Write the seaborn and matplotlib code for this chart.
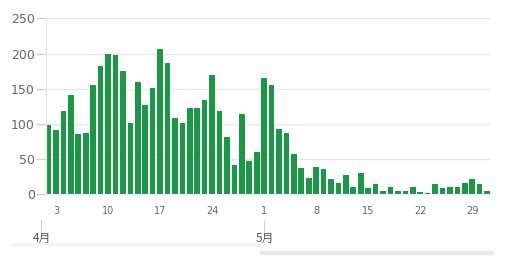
import matplotlib
matplotlib.use("Agg")
import matplotlib.pyplot as plt
import matplotlib.transforms as mtransforms
from matplotlib.patches import Rectangle
import seaborn as sns
import pandas as pd

# ---- data ----
dates = pd.date_range("2020-04-02", "2020-05-31", freq="D")
april_values = [98, 92, 118, 141, 86, 87, 156, 183, 199, 198, 175, 102, 160, 127,
                151, 206, 187, 109, 101, 123, 123, 134, 170, 119, 82, 42, 114, 47, 60]
may_values = [165, 156, 93, 87, 57, 37, 23, 39, 36, 22, 16, 27, 10, 30, 9, 15,
              5, 10, 5, 5, 11, 3, 2, 15, 9, 10, 11, 16, 22, 15, 5]
values = april_values + may_values
tick_dates = ["2020-04-03", "2020-04-10", "2020-04-17", "2020-04-24", "2020-05-01",
              "2020-05-08", "2020-05-15", "2020-05-22", "2020-05-29"]
tick_labels = ["3", "10", "17", "24", "1", "8", "15", "22", "29"]
month_labels = ["4月", "5月"]
month_starts = ["2020-04-01", "2020-05-01"]
y_ticks = [0, 50, 100, 150, 200, 250]

df = pd.DataFrame({"date": dates.strftime("%Y-%m-%d"), "value": values})

sns.set_theme(style="white")
plt.rcParams["font.family"] = ["DejaVu Sans"]

fig = plt.figure(figsize=(5.11, 2.62), dpi=100)
ax = fig.add_axes([0.090, 0.258, 0.869, 0.672])

bar_color = "#1c9747"
sns.barplot(data=df, x="date", y="value", color=bar_color, saturation=1,
            width=0.76, ax=ax, linewidth=0)

ax.set_xlim(-0.35, 59.4)
ax.set_ylim(0, 250)
ax.set_yticks(y_ticks)
ax.set_yticklabels([str(v) for v in y_ticks])
ax.yaxis.grid(True, color="#e6e6e6", linewidth=0.9)
ax.set_axisbelow(True)
ax.tick_params(axis="y", length=7, width=0.9, color="#cccccc", labelsize=9,
               labelcolor="#666666", pad=1, left=True)

# x ticks at selected days
date_strs = list(df["date"])
pos = [date_strs.index(t) for t in tick_dates]
ax.set_xticks(pos)
ax.set_xticklabels(tick_labels)
ax.tick_params(axis="x", length=0, labelsize=7, labelcolor="#666666", pad=8)

for s in ["top", "right", "bottom"]:
    ax.spines[s].set_visible(False)
ax.spines["left"].set_color("#e6e6e6")
ax.spines["left"].set_linewidth(0.9)
ax.set_xlabel("")
ax.set_ylabel("")

# month navigator labels
trans = mtransforms.blended_transform_factory(ax.transData, ax.transAxes)
first = pd.Timestamp(dates[0])
for lab, ms in zip(month_labels, month_starts):
    xpos = (pd.Timestamp(ms) - first).days
    ax.plot([xpos, xpos], [-0.148, -0.216], transform=trans, color="#d0d0d0",
            linewidth=0.8, clip_on=False)
    ax.text(xpos + 0.15, -0.25, lab, transform=trans, ha="center", va="center",
            fontsize=8.5, color="#555555",
            family=["Noto Sans CJK SC", "DejaVu Sans"], clip_on=False)

# scrollbar-like decoration
fig.patches.append(Rectangle((0.02, 0.062), 0.49, 0.012, transform=fig.transFigure,
                             color="#f6f6f6", zorder=0))
fig.patches.append(Rectangle((0.509, 0.030), 0.456, 0.013, transform=fig.transFigure,
                             color="#e8e8e8", zorder=0))

fig.savefig("out.png", dpi=100)
